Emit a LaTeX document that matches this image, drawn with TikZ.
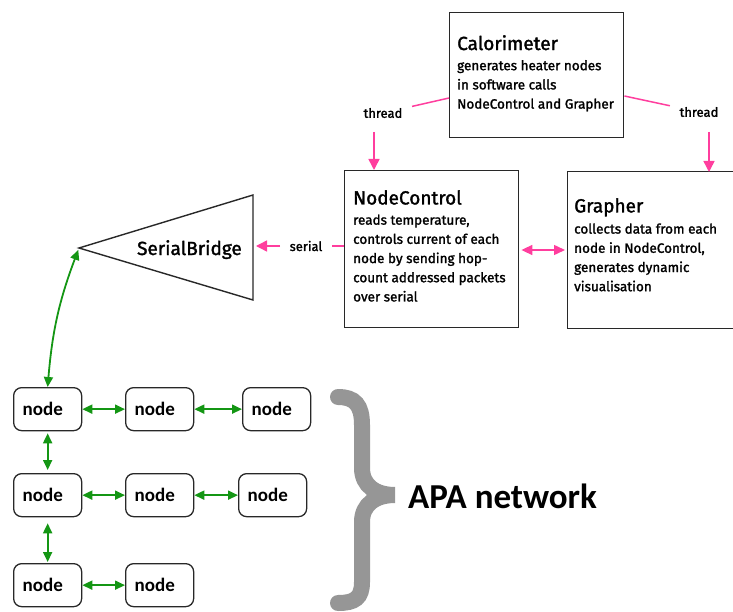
\documentclass[tikz,border=0pt]{standalone}
\usepackage{fontspec}
\setmainfont{Fira Sans}
\newfontfamily\medfont{Fira Sans}[FakeBold=1.6]
\newfontfamily\calibrifont{Carlito}
\usetikzlibrary{arrows.meta}

\definecolor{linkpink}{RGB}{255,62,158}
\definecolor{linkgreen}{RGB}{20,150,20}
\definecolor{boxgray}{RGB}{40,40,40}
\definecolor{bracegray}{RGB}{150,150,150}

\tikzset{
  box/.style={draw=boxgray, line width=1.4pt, rectangle, inner sep=0pt},
  boxtext/.style={inner sep=0pt, align=left, anchor=north west,
    font=\medfont\fontsize{13.5}{19.2}\selectfont},
  netnode/.style={draw=boxgray, line width=1.3pt, rounded corners=8pt,
    minimum height=43pt, text width=50pt, inner xsep=9pt, align=left,
    font=\calibrifont\bfseries\fontsize{19}{22}\selectfont},
  linklabel/.style={font=\medfont\fontsize{13}{15}\selectfont, inner xsep=9.5pt, inner ysep=4pt},
  pinkline/.style={draw=linkpink, line width=1.5pt},
  pinkarrow/.style={pinkline, -{Triangle[width=11pt,length=11pt]}},
  pinkboth/.style={pinkline, {Triangle[width=10pt,length=11pt]}-{Triangle[width=10pt,length=11pt]}},
  greenboth/.style={draw=linkgreen, line width=1.8pt,
    {Triangle[width=9pt,length=10pt]}-{Triangle[width=9pt,length=10pt]}},
}

\begin{document}
\begin{tikzpicture}[x=1pt,y=-1pt]
\useasboundingbox (0,0) rectangle (733,612);
\clip (0,0) rectangle (733,612);

% software boxes
\node[box, minimum width=174pt, minimum height=125pt, anchor=north west] (cal) at (449,12) {};
\node[box, minimum width=174pt, minimum height=157pt, anchor=north west] (nc) at (344,170) {};
\node[box, minimum width=180pt, minimum height=157pt, anchor=north west] (gr) at (567,171) {};

\node[boxtext] (caltext) at (457,35) {{\fontsize{19}{22}\selectfont Calorimeter}\\[1pt]
  generates heater nodes\\in software calls\\NodeControl and Grapher};
\node[boxtext] (nctext) at (353,190) {{\fontsize{19}{22}\selectfont NodeControl}\\[1pt]
  reads temperature,\\controls current of each\\node by sending hop-\\count addressed packets\\over serial};
\node[boxtext] (grtext) at (574,198) {{\fontsize{19}{22}\selectfont Grapher}\\[2pt]
  collects data from each\\node in NodeControl,\\generates dynamic\\visualisation};

% serial bridge
\coordinate (sbtip) at (79,248);
\coordinate (sbin) at (253,248);
\draw[box] (sbtip) -- (253,195) -- (253,300) -- cycle;
\node[anchor=base east, inner sep=0pt, font=\medfont\fontsize{19}{22}\selectfont] (sblabel) at (242,255) {SerialBridge};

% thread and serial links
\node[linklabel] (thl) at (383,113) {thread};
\node[linklabel] (thr) at (699,112) {thread};
\node[linklabel] (ser) at (306,246) {serial};
\coordinate (thlstart) at (374,132);
\coordinate (thrstart) at (709,132);

\draw[pinkline] (cal.west |- 0,98) -- (thl);
\draw[pinkarrow] (thlstart) -- (thlstart |- nc.north);
\draw[pinkline] (cal.east |- 0,96) -- (thr);
\draw[pinkarrow] (thrstart) -- ([yshift=-1pt]thrstart |- gr.north);
\draw[pinkline] (nc.west |- ser) -- (ser);
\draw[pinkarrow] (ser) -- ([xshift=3pt]sbin |- ser);
\draw[pinkboth, shorten <=2pt, shorten >=2pt] (nc.east |- 0,250) -- (gr.west |- 0,250);

% APA network nodes
\node[netnode, anchor=north west] (n11) at (13,387) {node};
\node[netnode, anchor=north west] (n12) at (125,387) {node};
\node[netnode, anchor=north west] (n13) at (242,387) {node};
\node[netnode, anchor=north west] (n21) at (13,473) {node};
\node[netnode, anchor=north west] (n22) at (125,473) {node};
\node[netnode, anchor=north west] (n23) at (238,473) {node};
\node[netnode, anchor=north west] (n31) at (13,563) {node};
\node[netnode, anchor=north west] (n32) at (125,563) {node};

\draw[greenboth] (n11) -- (n12);
\draw[greenboth] (n12) -- (n13);
\draw[greenboth] (n21) -- (n22);
\draw[greenboth] (n22) -- (n23);
\draw[greenboth] (n31) -- (n32);
\draw[greenboth, shorten <=2pt, shorten >=3pt] (n11) -- (n21);
\draw[greenboth, shorten <=6pt, shorten >=1pt] (n21) -- (n31);
\draw[greenboth, shorten >=2pt] (n11.north) to[bend left=8] (sbtip);

% brace and network label
\draw[bracegray, line width=16pt, line cap=round]
  (338,397) .. controls (355,397) and (362,405) .. (362,425)
  -- (362,468) .. controls (362,486) and (376,495) .. (395,495)
  .. controls (376,495) and (362,504) .. (362,522)
  -- (362,582) .. controls (362,598) and (355,603) .. (338,603);
\node[anchor=base west, inner sep=0pt, font=\calibrifont\bfseries\fontsize{35}{40}\selectfont] (apa) at (408,508) {APA network};
\end{tikzpicture}
\end{document}
